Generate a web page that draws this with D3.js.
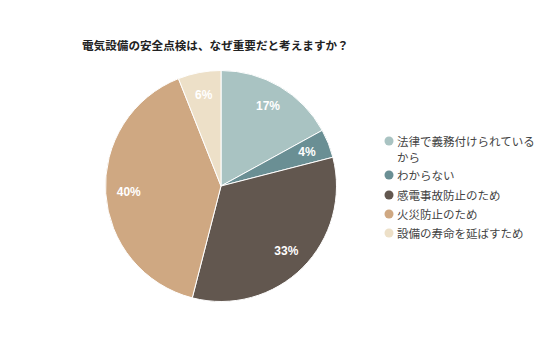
<!DOCTYPE html>
<html><head><meta charset="utf-8">
<script src="https://cdn.jsdelivr.net/npm/d3@7"></script>
<style>body{margin:0;background:#fff;}svg{display:block;font-family:"Noto Sans CJK JP",sans-serif;}</style>
</head><body>
<svg id="c" width="536" height="357"></svg>
<script>
const title = "電気設備の安全点検は、なぜ重要だと考えますか？";
const categories = ["法律で義務付けられているから","わからない","感電事故防止のため","火災防止のため","設備の寿命を延ばすため"];
const legendLines = [["法律で義務付けられている","から"],["わからない"],["感電事故防止のため"],["火災防止のため"],["設備の寿命を延ばすため"]];
const values = [17,4,33,40,6];
const colors = ["#a9c3c2","#6a8f94","#62574f","#cfa882","#ede0c8"];

const svg = d3.select("#c");
svg.append("text").attr("x",82).attr("y",50).attr("font-size",11.6).attr("font-weight","bold").attr("fill","#222").text(title);

const cx=221, cy=186, R=115.5;
const g = svg.append("g").attr("transform",`translate(${cx},${cy})`);
const pie = d3.pie().sort(null).value(d=>d)(values);
const arc = d3.arc().innerRadius(0).outerRadius(R);
const labelArc = d3.arc().innerRadius(R*0.8).outerRadius(R*0.8);
g.selectAll("path").data(pie).enter().append("path")
  .attr("d",arc).attr("fill",(d,i)=>colors[i]).attr("stroke","#fff").attr("stroke-width",1);
g.selectAll("text").data(pie).enter().append("text")
  .attr("transform",d=>`translate(${labelArc.centroid(d)})`)
  .attr("text-anchor","middle").attr("dominant-baseline","central")
  .attr("font-family","Arial, Liberation Sans, sans-serif")
  .attr("font-size",12).attr("font-weight","bold").attr("fill","#fff")
  .text(d=>d.data+"%");

const lg = svg.append("g");
const ys=[141,175,195,214,233];
legendLines.forEach((lines,i)=>{
  lg.append("circle").attr("cx",389).attr("cy",ys[i]).attr("r",4.5).attr("fill",colors[i]);
  lines.forEach((t,j)=>{
    lg.append("text").attr("x",397).attr("y",ys[i]+j*16).attr("dominant-baseline","central")
      .attr("font-size",11.5).attr("fill","#444").text(t);
  });
});
</script>
</body></html>
